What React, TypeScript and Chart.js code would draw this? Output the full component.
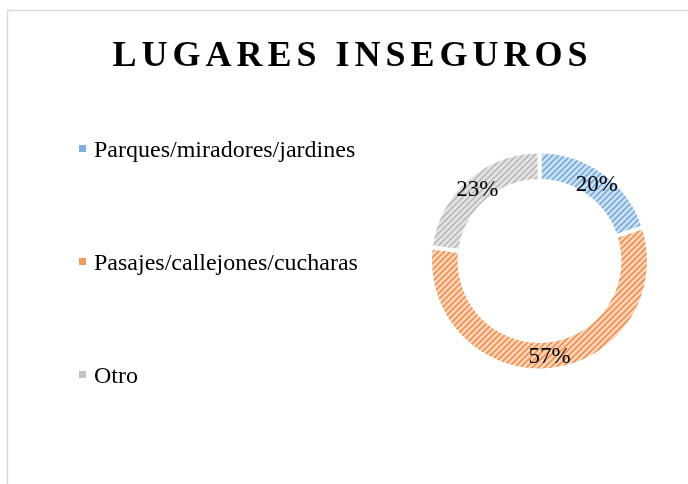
import React, { useEffect, useRef } from "react";
import { Chart, registerables } from "chart.js";

Chart.register(...registerables);

const TITLE = "LUGARES INSEGUROS";
const categories = ["Parques/miradores/jardines", "Pasajes/callejones/cucharas", "Otro"];
const values = [20, 57, 23];
const patternBg = ["#cfe2f4", "#fad6bd", "#e4e4e4"];
const patternFg = ["#78acdd", "#f0904f", "#b9b9b9"];
const markerColors = ["#7fb0df", "#f09a5e", "#c4c4c4"];

const SERIF = '"Liberation Serif", "Times New Roman", serif';

function makePattern(bg: string, fg: string): CanvasPattern | string {
  const size = 6;
  const c = document.createElement("canvas");
  c.width = size;
  c.height = size;
  const x = c.getContext("2d");
  if (!x) return fg;
  x.fillStyle = bg;
  x.fillRect(0, 0, size, size);
  x.strokeStyle = fg;
  x.lineWidth = 1.6;
  x.beginPath();
  x.moveTo(-1, size + 1);
  x.lineTo(size + 1, -1);
  x.moveTo(-size / 2 - 1, size / 2 + 1);
  x.lineTo(size / 2 + 1, -size / 2 - 1);
  x.moveTo(size / 2 - 1, size * 1.5 + 1);
  x.lineTo(size * 1.5 + 1, size / 2 - 1);
  x.stroke();
  const p = x.createPattern(c, "repeat");
  return p || fg;
}

const decorPlugin = {
  id: "decor",
  beforeDraw(chart: any) {
    const ctx = chart.ctx as CanvasRenderingContext2D;
    ctx.save();
    ctx.fillStyle = "#ffffff";
    ctx.fillRect(0, 0, chart.width, chart.height);
    // frame
    ctx.strokeStyle = "#d9d9d9";
    ctx.lineWidth = 1.5;
    ctx.beginPath();
    ctx.moveTo(7.5, chart.height + 2);
    ctx.lineTo(7.5, 10.5);
    ctx.lineTo(chart.width + 2, 10.5);
    ctx.stroke();
    // title
    ctx.fillStyle = "#000000";
    ctx.font = `bold 36px ${SERIF}`;
    const spacing = 5;
    (ctx as any).letterSpacing = `${spacing}px`;
    ctx.textAlign = "center";
    ctx.textBaseline = "alphabetic";
    ctx.fillText(TITLE, 350 + spacing / 2, 66);
    (ctx as any).letterSpacing = "0px";
    // legend
    const labels = chart.data.labels as string[];
    ctx.font = `24px ${SERIF}`;
    ctx.textAlign = "left";
    labels.forEach((lab, i) => {
      const baseY = 157 + i * 113;
      ctx.fillStyle = markerColors[i];
      ctx.fillRect(79, baseY - 12, 7, 7);
      ctx.fillStyle = "#000000";
      ctx.fillText(lab, 94, baseY);
    });
    ctx.restore();
  },
  afterDatasetsDraw(chart: any) {
    const ctx = chart.ctx as CanvasRenderingContext2D;
    const meta = chart.getDatasetMeta(0);
    const data = chart.data.datasets[0].data as number[];
    const total = data.reduce((a, b) => a + b, 0);
    ctx.save();
    ctx.font = `23px ${SERIF}`;
    ctx.fillStyle = "#000000";
    ctx.textAlign = "center";
    ctx.textBaseline = "middle";
    meta.data.forEach((arc: any, i: number) => {
      const { x, y, startAngle, endAngle, innerRadius, outerRadius } = arc.getProps(
        ["x", "y", "startAngle", "endAngle", "innerRadius", "outerRadius"],
        true
      );
      const mid = (startAngle + endAngle) / 2;
      const r = (innerRadius + outerRadius) / 2 + 1;
      const pct = Math.round((data[i] / total) * 100);
      ctx.fillText(`${pct}%`, x + Math.cos(mid) * r + 1, y + Math.sin(mid) * r + 1);
    });
    ctx.restore();
  },
};

export default function App() {
  const ref = useRef<HTMLCanvasElement | null>(null);
  useEffect(() => {
    const canvas = ref.current;
    if (!canvas) return;
    const ctx = canvas.getContext("2d");
    if (!ctx) return;
    const fills = values.map((_, i) => makePattern(patternBg[i], patternFg[i]));
    const chart = new Chart(canvas, {
      type: "doughnut",
      data: {
        labels: categories,
        datasets: [
          {
            data: values,
            backgroundColor: fills as any,
            borderColor: "#ffffff",
            borderWidth: 4,
          },
        ],
      },
      options: {
        responsive: false,
        animation: false,
        devicePixelRatio: 1,
        radius: 109.5,
        cutout: 77,
        layout: { padding: { left: 432, right: 41, top: 153, bottom: 115 } },
        plugins: {
          legend: { display: false },
          title: { display: false },
          tooltip: { enabled: false },
        },
      } as any,
      plugins: [decorPlugin],
    });
    return () => chart.destroy();
  }, []);
  return (
    <div style={{ position: "fixed", left: 0, top: 0, width: 688, height: 484, background: "#fff" }}>
      <canvas ref={ref} width={688} height={484} style={{ display: "block", width: 688, height: 484 }} />
    </div>
  );
}
